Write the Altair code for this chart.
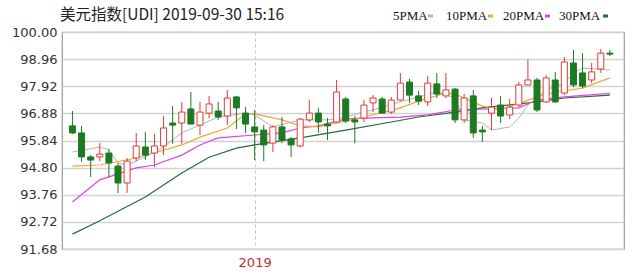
import altair as alt
import pandas as pd

# ---- data (weekly candles, USD index) ----
opens = [96.40, 96.13, 95.21, 95.21, 95.36, 94.86, 94.21, 95.17, 95.59, 95.36,
         95.63, 96.51, 96.51, 97.05, 96.43, 96.89, 96.97, 96.78, 97.51, 96.89,
         96.36, 96.24, 95.74, 96.36, 95.90, 95.63, 96.63, 96.89, 96.47, 96.55,
         97.43, 96.63, 96.70, 97.28, 97.43, 96.93, 97.39, 98.08, 97.55, 97.32,
         98.01, 97.55, 97.81, 96.63, 97.55, 96.24, 96.89, 97.20, 96.82, 97.20,
         97.97, 98.16, 97.32, 98.16, 97.66, 98.81, 98.43, 98.16, 98.58, 99.19]
highs = [96.97, 96.40, 95.28, 95.74, 95.51, 94.98, 95.17, 96.13, 96.17, 96.09,
         96.78, 97.16, 97.32, 97.70, 97.32, 97.55, 97.32, 97.78, 97.55, 97.12,
         97.01, 96.43, 96.43, 96.74, 95.97, 96.70, 97.39, 97.09, 96.70, 98.16,
         97.51, 96.78, 97.39, 97.58, 97.51, 97.51, 98.43, 98.20, 97.74, 98.31,
         98.43, 98.43, 97.85, 97.62, 97.78, 96.40, 97.47, 97.55, 97.43, 98.08,
         98.96, 98.24, 98.35, 98.47, 99.04, 99.31, 99.19, 98.81, 99.35, 99.31]
lows = [96.09, 95.02, 94.44, 95.05, 94.44, 93.83, 93.83, 95.05, 95.09, 94.82,
        95.28, 95.71, 95.71, 96.70, 96.05, 96.70, 96.63, 96.43, 96.28, 96.13,
        95.09, 95.05, 95.40, 95.74, 95.21, 95.59, 96.55, 96.13, 95.86, 96.51,
        96.51, 95.74, 96.55, 96.93, 96.86, 96.86, 97.35, 97.28, 97.20, 97.16,
        97.47, 97.47, 96.51, 96.51, 95.94, 95.78, 96.24, 96.51, 96.66, 97.12,
        97.97, 96.93, 97.28, 97.28, 97.58, 97.89, 97.85, 98.04, 98.43, 99.08]
closes = [96.13, 95.21, 95.09, 95.32, 94.98, 94.21, 95.05, 95.63, 95.28, 95.63,
          96.32, 96.43, 96.93, 96.47, 96.93, 97.24, 96.74, 97.47, 97.09, 96.47,
          96.17, 95.67, 96.36, 95.86, 95.67, 96.66, 96.89, 96.55, 96.40, 97.70,
          96.59, 96.55, 97.20, 97.47, 96.89, 97.39, 98.04, 97.58, 97.35, 98.04,
          97.62, 97.78, 96.63, 97.47, 96.13, 96.17, 97.12, 96.78, 97.12, 97.97,
          98.16, 97.01, 98.24, 97.32, 98.85, 97.97, 97.93, 98.47, 99.19, 99.15]

ma5_idx = [0, 3, 4, 5, 6, 8, 10, 12, 16, 19, 20, 22, 25, 28, 30, 32, 33, 36, 38, 40,
           42, 43, 45, 46, 48, 49, 50, 52, 54, 55, 56, 59]
ma5_val = [95.40, 95.59, 95.48, 94.98, 94.90, 95.21, 95.59, 96.13, 96.74, 96.89,
           96.82, 96.36, 96.63, 96.63, 96.74, 96.93, 97.01, 97.32, 97.51, 97.70,
           97.47, 96.63, 96.51, 96.24, 96.36, 96.70, 97.20, 97.78, 98.04, 98.43,
           98.62, 98.54]
ma10_idx = [0, 3, 7, 12, 14, 17, 19, 20, 23, 25, 27, 29, 32, 36, 38, 41, 42, 45, 47,
            51, 53, 56, 59]
ma10_val = [94.86, 94.90, 95.17, 95.67, 95.97, 96.32, 96.86, 96.86, 96.63, 96.40,
            96.36, 96.51, 96.74, 97.09, 97.35, 97.66, 97.62, 97.16, 97.01, 97.51,
            97.70, 97.85, 98.24]
ma20_idx = [0, 3, 7, 9, 12, 14, 16, 20, 23, 25, 27, 30, 32, 36, 39, 42, 49, 51, 54, 59]
ma20_val = [93.48, 94.33, 94.79, 94.90, 95.28, 95.67, 95.94, 96.05, 96.13, 96.32,
            96.40, 96.67, 96.70, 96.74, 96.82, 97.01, 97.09, 97.39, 97.51, 97.65]
ma30_idx = [0, 3, 8, 12, 15, 18, 20, 25, 30, 35, 38, 42, 45, 51, 54, 59]
ma30_val = [92.25, 92.76, 93.67, 94.59, 95.20, 95.55, 95.67, 95.94, 96.24, 96.55,
            96.74, 96.93, 97.09, 97.32, 97.47, 97.58]

y_ticks = [91.68, 92.72, 93.76, 94.80, 95.84, 96.88, 97.92, 98.96, 100.00]
year_idx = [20]
year_label = "2019"
title_text = "美元指数[UDI] 2019-09-30 15:16"
legend_names = ["5PMA", "10PMA", "20PMA", "30PMA"]

RED = "#e03a3a"
GREEN = "#1c7a22"
MA_COLORS = ["#b5b5b5", "#f0a830", "#e044e0", "#246b3c"]

df = pd.DataFrame({
    "idx": list(range(len(opens))),
    "open": opens, "high": highs, "low": lows, "close": closes,
})
df["dir"] = ["up" if c >= o else "down" for o, c in zip(opens, closes)]

xscale = alt.Scale(domain=[-0.6, 60.0], nice=False, zero=False)
yscale = alt.Scale(domain=[91.68, 100.0], nice=False, zero=False)

xaxis = alt.Axis(values=year_idx, labelExpr=f"'{year_label}'", title=None,
                 ticks=False, domain=False, grid=True, gridDash=[3, 3],
                 gridColor="#c4c4c4", gridWidth=1, labelColor="#b8322f",
                 labelFont="DejaVu Sans", labelFontSize=13, labelPadding=7,
                 tickCount=60)
yaxis = alt.Axis(values=y_ticks, format=".2f", title=None, ticks=False,
                 domain=False, grid=True, gridColor="#d2d2d2", gridWidth=1.5,
                 labelColor="#333333", labelFont="DejaVu Sans", labelFontSize=13,
                 labelPadding=5, tickCount=20, labelOverlap=False)

base = alt.Chart(df).encode(x=alt.X("idx:Q", scale=xscale, axis=xaxis))

wick = base.mark_rule(strokeWidth=1).encode(
    y=alt.Y("low:Q", scale=yscale, axis=yaxis),
    y2="high:Q",
    color=alt.Color("dir:N", scale=alt.Scale(domain=["up", "down"], range=[RED, GREEN]), legend=None),
)
body = base.mark_bar(size=6, strokeWidth=1).encode(
    y=alt.Y("open:Q", scale=yscale),
    y2="close:Q",
    fill=alt.Fill("dir:N", scale=alt.Scale(domain=["up", "down"], range=["#ffffff", GREEN]), legend=None),
    stroke=alt.Stroke("dir:N", scale=alt.Scale(domain=["up", "down"], range=[RED, GREEN]), legend=None),
)

def ma_layer(ix, vals, color, width):
    d = pd.DataFrame({"idx": ix, "v": vals})
    return alt.Chart(d).mark_line(color=color, strokeWidth=width).encode(
        x=alt.X("idx:Q", scale=xscale), y=alt.Y("v:Q", scale=yscale))

lines = [
    ma_layer(ma30_idx, ma30_val, MA_COLORS[3], 1.2),
    ma_layer(ma20_idx, ma20_val, MA_COLORS[2], 1.2),
    ma_layer(ma10_idx, ma10_val, MA_COLORS[1], 1.2),
    ma_layer(ma5_idx, ma5_val, MA_COLORS[0], 1),
]

one = pd.DataFrame({"t": [title_text]})
title = alt.Chart(one).mark_text(align="left", baseline="middle", font="Noto Sans CJK SC",
                                 fontSize=15.5, color="#222222").encode(
    x=alt.value(-2), y=alt.value(-17), text="t:N")

legend_layers = []
text_x = [331, 384, 441, 497]
dash_x = [366, 426, 483, 541]
for name, col, tx, dx in zip(legend_names, MA_COLORS, text_x, dash_x):
    ld = pd.DataFrame({"t": [name]})
    legend_layers.append(alt.Chart(ld).mark_text(align="left", baseline="middle",
                                                 font="Liberation Serif", fontSize=13,
                                                 color="#111111").encode(
        x=alt.value(tx), y=alt.value(-16), text="t:N"))
    legend_layers.append(alt.Chart(ld).mark_rule(color=col, strokeWidth=3).encode(
        x=alt.value(dx), x2=alt.value(dx + 5), y=alt.value(-16)))

chart = alt.layer(*lines, wick, body, title, *legend_layers).properties(
    width=562, height=217,
    padding={"left": 62, "top": 32, "right": 16, "bottom": 27},
    autosize=alt.AutoSizeParams(type="none"),
    background="white",
).configure_view(stroke="#9a9a9a", strokeWidth=1.2)

chart.save("out.html", embed_options={"renderer": "svg", "actions": False})
